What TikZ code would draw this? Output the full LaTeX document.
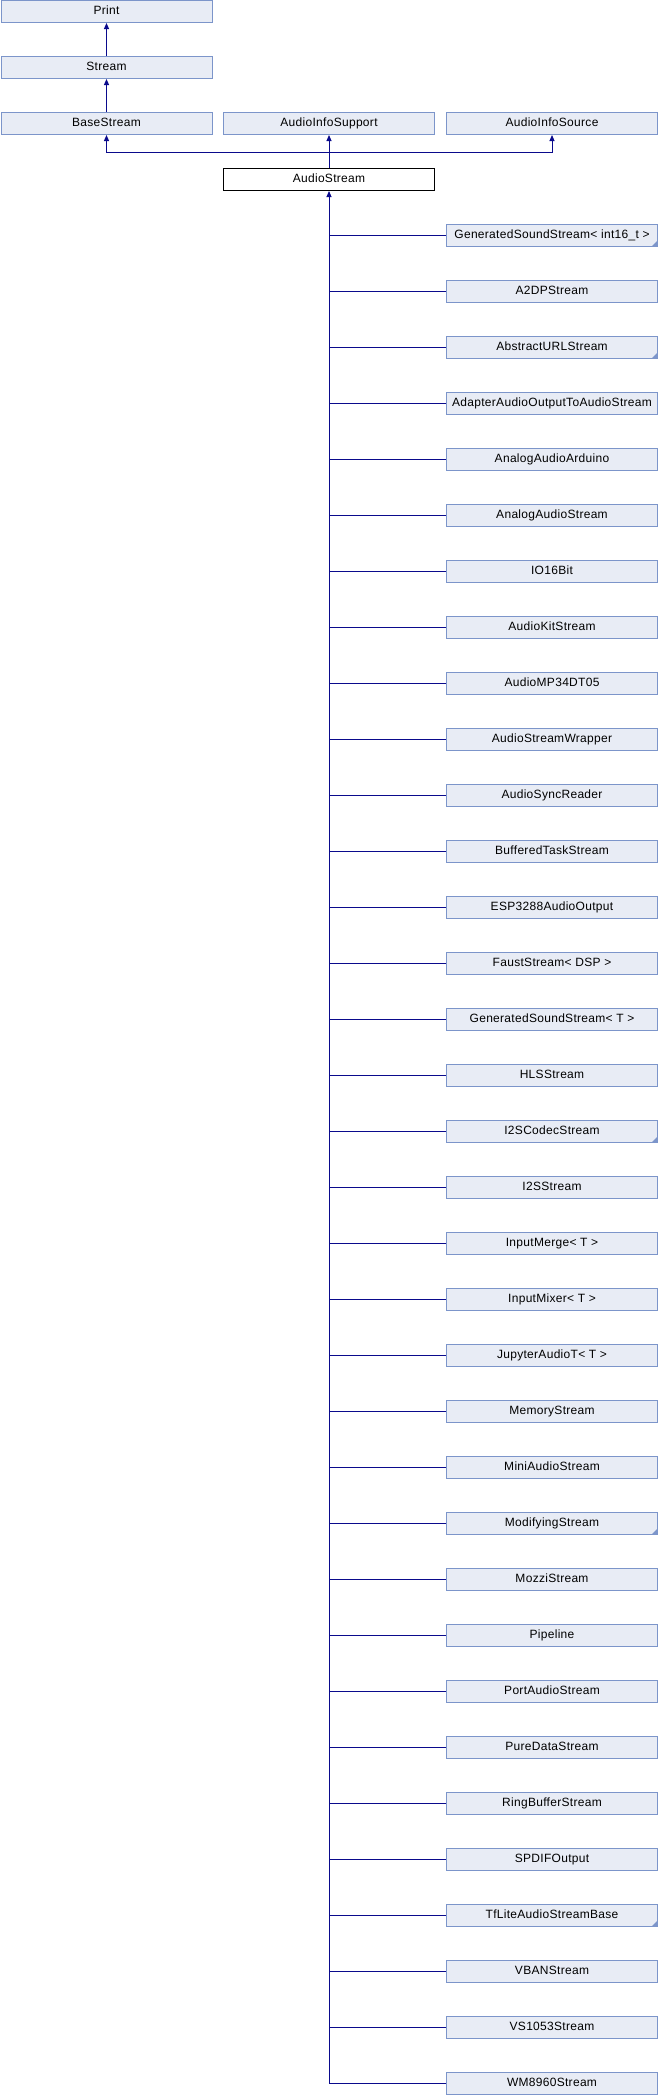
\documentclass[tikz,border=0pt]{standalone}
\usepackage{fontspec}
\setmainfont[LetterSpace=2.5]{Liberation Sans}
\usetikzlibrary{arrows.meta}
\definecolor{boxfill}{RGB}{232,236,245}
\definecolor{boxline}{RGB}{124,149,202}
\definecolor{edgecol}{RGB}{10,10,140}
\begin{document}
\begin{tikzpicture}[x=1pt,y=-1pt,
  cls/.style={draw=boxline,fill=boxfill,line width=1pt,minimum width=211pt,minimum height=22pt,inner sep=0pt,text height=8.6pt,text depth=2.6pt,font=\fontsize{12}{14}\selectfont},
  cur/.style={cls,draw=black,fill=white},
  edge/.style={draw=edgecol,line width=1pt},
  inh/.style={edge,-{Triangle[length=6pt,width=5pt]}},
  moremark/.style={fill=boxline}]
\path[use as bounding box] (0,0) rectangle (659,2096);
\node[cls] (print) at (106.5,11.5) {Print};
\node[cls] (stream) at (106.5,67.5) {Stream};
\node[cls] (base) at (106.5,123.5) {BaseStream};
\node[cls] (ais) at (329,123.5) {AudioInfoSupport};
\node[cls] (aisrc) at (552,123.5) {AudioInfoSource};
\node[cur] (ast) at (329,179.5) {AudioStream};
\draw[inh] (stream.north) -- (print.south);
\draw[inh] (base.north) -- (stream.south);
\coordinate (j) at (329,152);
\draw[edge] (ast.north) -- (j);
\draw[inh] (j) -- (ais.south);
\draw[inh] (j) -| (base.south);
\draw[inh] (j) -| (aisrc.south);
\foreach \n [count=\i] in {{GeneratedSoundStream< int16\_t >},A2DPStream,AbstractURLStream,AdapterAudioOutputToAudioStream,AnalogAudioArduino,AnalogAudioStream,IO16Bit,AudioKitStream,AudioMP34DT05,AudioStreamWrapper,AudioSyncReader,BufferedTaskStream,ESP3288AudioOutput,{FaustStream< DSP >},{GeneratedSoundStream< T >},HLSStream,I2SCodecStream,I2SStream,{InputMerge< T >},{InputMixer< T >},{JupyterAudioT< T >},MemoryStream,MiniAudioStream,ModifyingStream,MozziStream,Pipeline,PortAudioStream,PureDataStream,RingBufferStream,SPDIFOutput,TfLiteAudioStreamBase,VBANStream,VS1053Stream,WM8960Stream}
  {\node[cls] (c\i) at (552,{235.5+56*(\i-1)}) {\n};}
\draw[inh] (c34.west) -| (ast.south);
\foreach \i in {1,...,33} {\draw[edge] (c\i.west) -- (c\i.west -| ast.south);}
\foreach \k in {1,3,17,24,31}
  {\fill[moremark] ([xshift=-0.5pt,yshift=0.5pt]c\k.south east) -- ++(-6,0) -- ++(6,-6) -- cycle;}
\end{tikzpicture}
\end{document}
